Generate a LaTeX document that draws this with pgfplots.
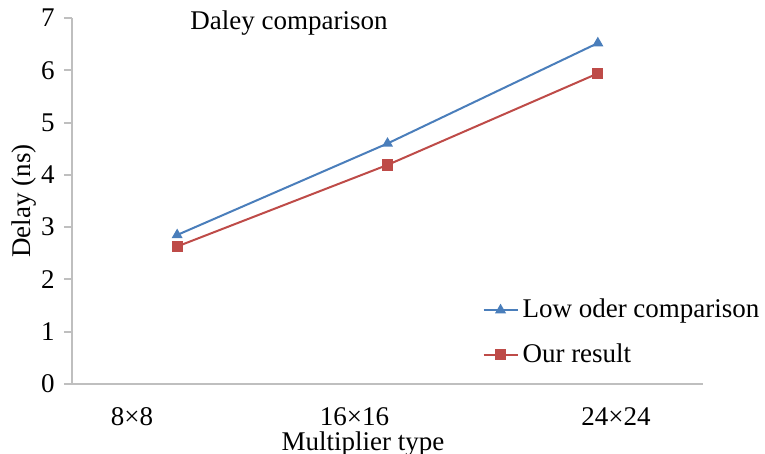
\documentclass[border=0pt]{standalone}
\usepackage{fontspec}
\setmainfont{Liberation Serif}
\usepackage{pgfplots}
\pgfplotsset{compat=1.18}
\definecolor{lowblue}{HTML}{4A7EBB}
\definecolor{ourred}{HTML}{BE4B48}
\definecolor{axgray}{HTML}{BFBFBF}

\begin{document}
\begin{tikzpicture}
\fontsize{13.5bp}{15bp}\selectfont
\begin{axis}[%
  scale only axis,
  width=315.5bp, height=183bp,
  at={(0,0)}, anchor=south west,
  xmin=-0.5, xmax=2.5,
  ymin=0, ymax=7,
  axis x line*=bottom, axis y line*=left,
  axis line style={axgray, line width=1bp},
  % category labels sit left of the data, as in the original
  xtick={-0.215,0.843,2.086},
  xticklabels={8×8,16×16,24×24},
  x tick style={draw=none},
  ytick={0,1,...,7},
  y tick style={axgray, line width=1bp},
  tick align=outside,
  major tick length=4bp,
  /pgf/number format/assume math mode=true,
  tick label style={font=\fontsize{13.5bp}{15bp}\selectfont},
  xticklabel style={yshift=-3bp},
  xlabel={Multiplier type},
  ylabel={Delay (ns)},
  label style={font=\fontsize{13.5bp}{15bp}\selectfont},
  xlabel style={at={(axis description cs:0.461,0)}, anchor=north, yshift=-19bp},
  ylabel style={at={(axis description cs:0,0.5)}, anchor=south, yshift=13bp},
  legend style={draw=none, fill=none,
    at={(rel axis cs:0.65,0.245)}, anchor=north west,
    font=\fontsize{13.5bp}{15bp}\selectfont,
    row sep=7bp, inner sep=0pt},
  legend cell align=left,
  clip=false,
]
\addplot[lowblue, line width=1bp, mark=triangle*, mark size=2.2bp,
  mark options={solid}] coordinates {
  (0, 2.85)
  (1, 4.60)
  (2, 6.52)
};
\addlegendentry{Low oder comparison}
\addplot[ourred, line width=1bp, mark=square*, mark size=2.3bp,
  mark options={solid}] coordinates {
  (0, 2.63)
  (1, 4.19)
  (2, 5.94)
};
\addlegendentry{Our result}
\node[anchor=center] at (rel axis cs:0.344,0.985) {Daley comparison};
\end{axis}
\pgfresetboundingbox
\useasboundingbox (-36bp,-35bp) rectangle (346.5bp,192bp);
\end{tikzpicture}
\end{document}
